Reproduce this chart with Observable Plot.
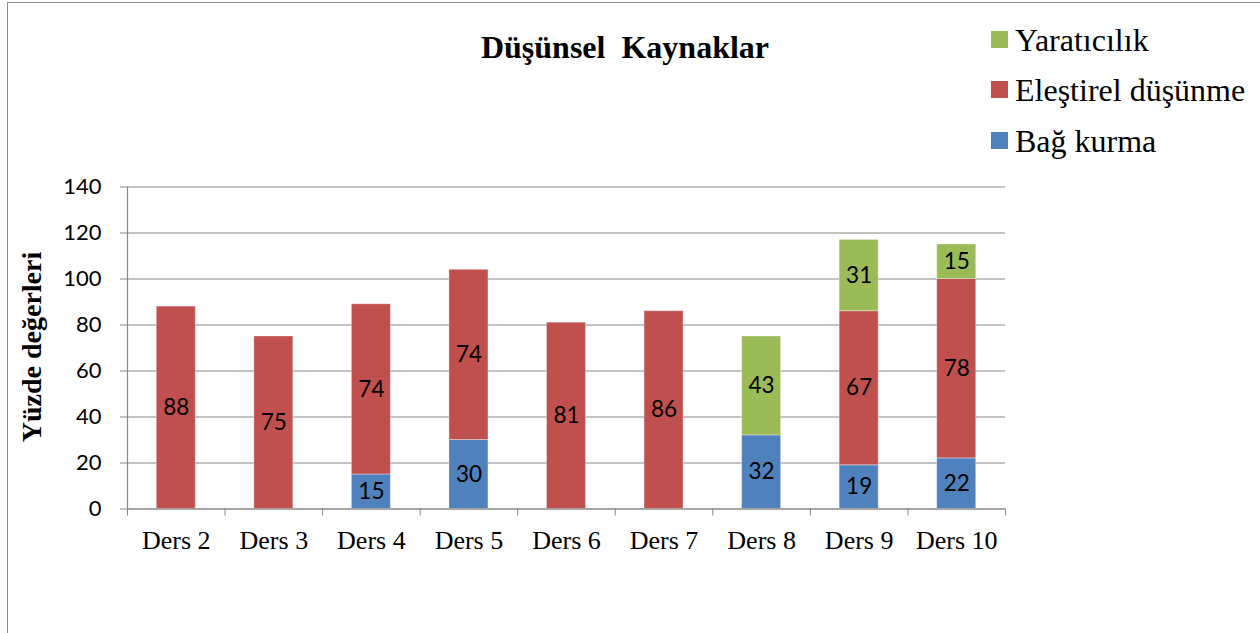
<!DOCTYPE html>
<html>
<head>
<meta charset="utf-8">
<script src="https://cdn.jsdelivr.net/npm/d3@7"></script>
<script src="https://cdn.jsdelivr.net/npm/@observablehq/plot@0.6"></script>
<style>
  html, body { margin: 0; padding: 0; background: #fff; }
  #wrap { position: relative; width: 1260px; height: 633px; overflow: hidden; background: #fff; }
  #frame { position: absolute; left: 7px; top: 2px; width: 1400px; height: 800px;
           border-left: 1.5px solid #8a8a8a; border-top: 1.5px solid #8a8a8a; }
  #chart { position: absolute; left: 0; top: 0; }
  #title { position: absolute; left: 425px; width: 400px; top: 31px; text-align: center;
           font-family: "Liberation Serif", "Times New Roman", serif; font-weight: bold;
           font-size: 32px; line-height: 32px; white-space: pre; }
  #ylabel { position: absolute; left: -118px; width: 300px; top: 333px; text-align: center;
            font-family: "Liberation Serif", "Times New Roman", serif; font-weight: bold;
            font-size: 28px; line-height: 28px; transform: rotate(-90deg); white-space: pre; }
  .leg { position: absolute; left: 991px; font-size: 32px; line-height: 32px; white-space: pre; }
  .leg .sw { position: absolute; left: 0; width: 17px; height: 17px; }
  .leg .tx { position: absolute; left: 24px; top: 0;
             font-family: "Liberation Serif", "Times New Roman", serif; font-weight: normal; }
</style>
</head>
<body>
<div id="wrap">
  <div id="frame"></div>
  <div id="chart"></div>
  <div id="title"></div>
  <div id="ylabel"></div>
  <div id="legend"></div>
</div>
<script>
const chartTitle = "Düşünsel  Kaynaklar";
const yAxisTitle = "Yüzde değerleri";
const categories = ["Ders 2", "Ders 3", "Ders 4", "Ders 5", "Ders 6", "Ders 7", "Ders 8", "Ders 9", "Ders 10"];
const bagKurma    = [0, 0, 15, 30, 0, 0, 32, 19, 22];
const elestirel   = [88, 75, 74, 74, 81, 86, 0, 67, 78];
const yaraticilik = [0, 0, 0, 0, 0, 0, 43, 31, 15];
const seriesNames = ["Bağ kurma", "Eleştirel düşünme", "Yaratıcılık"];
const seriesColors = ["#4F81BD", "#C0504D", "#9BBB59"];
const yTicks = [0, 20, 40, 60, 80, 100, 120, 140];

const seriesValues = [bagKurma, elestirel, yaraticilik];
const rows = [];
categories.forEach((c, i) => {
  let cum = 0;
  seriesValues.forEach((vals, s) => {
    const v = vals[i];
    if (v > 0) rows.push({i, cat: c, name: seriesNames[s], v, y1: cum, y2: cum + v});
    cum += v;
  });
});

const grid = "#878787";
const plot = Plot.plot({
  width: 1260,
  height: 633,
  marginLeft: 127,
  marginRight: 255,
  marginTop: 186.5,
  marginBottom: 124.5,
  style: {fontFamily: "Lato, sans-serif", background: "transparent", color: "black"},
  x: {type: "linear", domain: [0, categories.length]},
  y: {domain: [0, 140]},
  color: {domain: seriesNames, range: seriesColors},
  marks: [
    Plot.ruleY(yTicks, {stroke: grid, strokeWidth: 1}),
    Plot.rectY(rows, {
      x1: d => d.i + 0.3, x2: d => d.i + 0.7, y1: "y1", y2: "y2",
      fill: "name", stroke: "white", strokeOpacity: 0.35, strokeWidth: 1
    }),
    Plot.ruleX([0], {stroke: grid, strokeWidth: 1.2}),
    Plot.ruleY([0], {stroke: grid, strokeWidth: 1.2}),
    Plot.axisY({ticks: yTicks, tickSize: 7, tickPadding: 19, fontSize: 22, label: null,
                stroke: grid, fill: "black"}),
    Plot.axisX({ticks: d3.range(0, categories.length + 1), tickSize: 7, tickFormat: () => "",
                label: null, stroke: grid}),
    Plot.axisX({ticks: categories.map((c, i) => i + 0.5), tickSize: 0, tickPadding: 22,
                tickFormat: v => categories[Math.floor(v)], label: null,
                fontFamily: "Liberation Serif, Times New Roman, serif", fontSize: 26, fill: "black"}),
    Plot.text(rows, {x: d => d.i + 0.5, y: d => (d.y1 + d.y2) / 2, text: d => String(d.v),
                     fontSize: 22.5, fill: "black"})
  ]
});
document.getElementById("chart").appendChild(plot);
document.getElementById("title").textContent = chartTitle;
document.getElementById("ylabel").textContent = yAxisTitle;

const legend = document.getElementById("legend");
const legendOrder = [2, 1, 0];
legendOrder.forEach((s, k) => {
  const row = document.createElement("div");
  row.className = "leg";
  row.style.top = (23.5 + k * 50.5) + "px";
  const sw = document.createElement("span");
  sw.className = "sw";
  sw.style.background = seriesColors[s];
  sw.style.top = "7px";
  const tx = document.createElement("span");
  tx.className = "tx";
  tx.style.fontFamily = "'Liberation Serif', 'Times New Roman', serif";
  tx.textContent = seriesNames[s];
  row.appendChild(sw);
  row.appendChild(tx);
  legend.appendChild(row);
});
</script>
</body>
</html>
